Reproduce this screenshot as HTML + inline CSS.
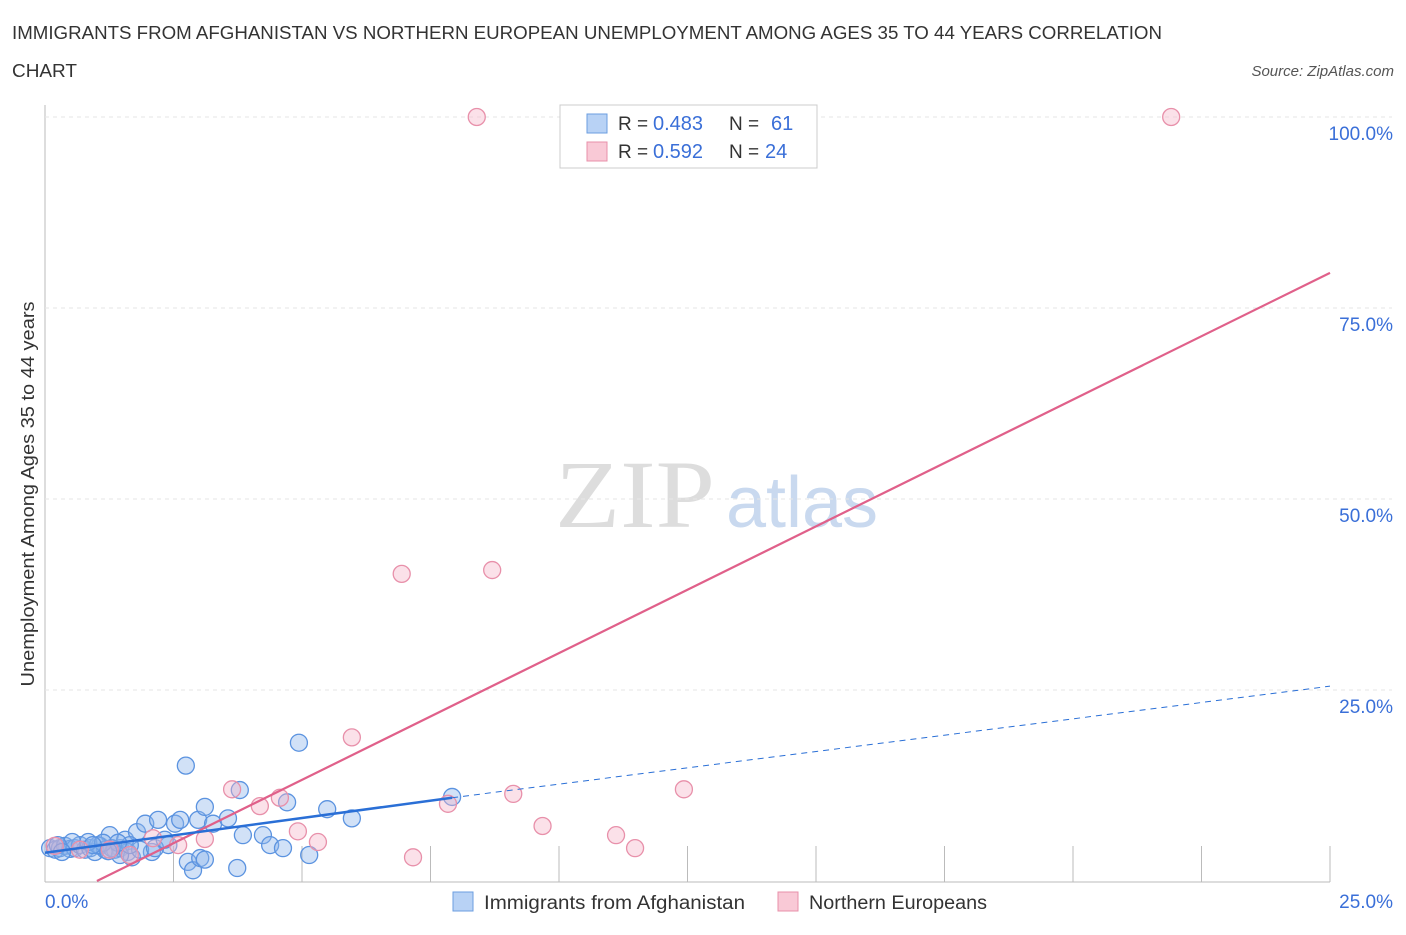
<!DOCTYPE html>
<html><head><meta charset="utf-8"><style>
body{margin:0;background:#fff;font-family:"Liberation Sans",sans-serif}
</style></head><body>
<svg id="chart" width="1406" height="930" xmlns="http://www.w3.org/2000/svg">
<text x="12" y="39" font-size="18" fill="#333" textLength="1150" lengthAdjust="spacingAndGlyphs">IMMIGRANTS FROM AFGHANISTAN VS NORTHERN EUROPEAN UNEMPLOYMENT AMONG AGES 35 TO 44 YEARS CORRELATION</text>
<text x="12" y="77" font-size="18" fill="#333" textLength="65" lengthAdjust="spacingAndGlyphs">CHART</text>
<text x="1394" y="76" font-size="15" fill="#555" font-style="italic" text-anchor="end">Source: ZipAtlas.com</text>
<text x="635" y="527" font-size="96" fill="#ddd" font-family="Liberation Serif,serif" text-anchor="middle" textLength="160" lengthAdjust="spacingAndGlyphs">ZIP</text>
<text x="802" y="527" font-size="72" fill="#c9d9ef" text-anchor="middle">atlas</text>
<text transform="translate(34,494) rotate(-90)" font-size="18" fill="#333" text-anchor="middle" textLength="385" lengthAdjust="spacingAndGlyphs">Unemployment Among Ages 35 to 44 years</text>
<g id="grid"></g><g id="pts"></g><g id="lines"></g>
<g>
<rect x="560" y="105" width="257" height="63" fill="#fff" stroke="#ccc"/>
<rect x="587" y="114" width="20" height="19" fill="#b8d2f5" stroke="#6b9ee0"/>
<rect x="587" y="142" width="20" height="19" fill="#f9c9d6" stroke="#e890aa"/>
<text x="618" y="130" font-size="19" fill="#333">R =</text><text x="653" y="130" font-size="20" fill="#3a6fd8">0.483</text>
<text x="729" y="130" font-size="19" fill="#333">N =</text><text x="771" y="130" font-size="20" fill="#3a6fd8">61</text>
<text x="618" y="158" font-size="19" fill="#333">R =</text><text x="653" y="158" font-size="20" fill="#3a6fd8">0.592</text>
<text x="729" y="158" font-size="19" fill="#333">N =</text><text x="765" y="158" font-size="20" fill="#3a6fd8">24</text>
</g>
<g>
<rect x="453" y="892" width="20" height="19" fill="#b8d2f5" stroke="#6b9ee0"/>
<text x="484" y="909" font-size="19" fill="#333" textLength="261" lengthAdjust="spacingAndGlyphs">Immigrants from Afghanistan</text>
<rect x="778" y="892" width="20" height="19" fill="#f9c9d6" stroke="#e890aa"/>
<text x="809" y="909" font-size="19" fill="#333" textLength="178" lengthAdjust="spacingAndGlyphs">Northern Europeans</text>
</g>
</svg>
<script>
const xTicks=[0,2.5,5,7.5,10,12.5,15,17.5,20,22.5,25];
const yTicks=[25,50,75,100];
const yTickLabels=["25.0%","50.0%","75.0%","100.0%"];
const blueX=[0.1,0.2,0.29,0.39,0.49,0.58,0.68,0.78,0.88,0.97,1.07,1.17,1.26,1.36,1.46,1.56,1.61,1.69,1.79,1.95,2.08,2.2,2.4,2.53,2.63,2.74,2.78,2.88,2.98,3.02,3.11,3.11,3.27,3.56,3.74,3.79,3.85,4.24,4.38,4.63,4.71,4.94,5.14,5.49,5.97,7.92,1.46,1.3,1.03,0.53,0.25,0.84,1.85,2.14,2.33,1.65,1.13,1.42,1.23,0.93,0.33];
const blueY=[4.3,4.1,4.3,4.6,4.2,4.3,4.7,4.1,4.3,3.8,4.6,4.1,6.0,4.1,4.3,5.4,3.8,3.1,6.4,7.5,3.8,8.0,4.7,7.5,8.0,15.1,2.5,1.4,8.0,3.0,9.7,2.8,7.5,8.2,1.7,11.9,6.0,6.0,4.7,4.3,10.3,18.1,3.4,9.4,8.2,11.0,3.4,4.3,4.7,5.1,4.7,5.1,4.1,4.3,5.4,4.7,5.0,5.0,3.9,4.7,3.8];
const pinkX=[0.19,0.68,2.1,2.59,3.11,3.64,4.18,4.57,4.92,5.31,5.97,6.94,7.16,7.84,8.4,8.7,9.11,9.68,11.11,11.48,12.43,21.91,1.26,1.65];
const pinkY=[4.6,4.1,5.6,4.7,5.5,12.0,9.8,10.9,6.5,5.1,18.8,40.2,3.1,10.1,100,40.7,11.4,7.2,6.0,4.3,12.0,100,4.1,3.4];
const pinkLine=[1.01,0,25,79.6];
const blueLine=[0,3.7,7.92,10.9,25,25.5];
const NS="http://www.w3.org/2000/svg";
const X=v=>45+v*51.4, Y=v=>881-v*7.64;
function mk(t,a,p){const e=document.createElementNS(NS,t);for(const k in a)e.setAttribute(k,a[k]);p.appendChild(e);return e;}
const g=document.getElementById('grid');
let ax=mk('line',{x1:45,y1:105,x2:45,y2:882,stroke:'#bbb'},g);


let bx=mk('line',{x1:45,y1:882,x2:1330,y2:882,stroke:'#bbb'},g);


yTicks.forEach((t,i)=>{
 const l=mk('line',{x1:45,x2:1392,y1:Y(t),y2:Y(t),stroke:'#e6e6e6','stroke-dasharray':'4,4'},g);
 
 
 const tx=mk('text',{x:1393,y:Y(t)+23,'font-size':19,fill:'#3a6fd8','text-anchor':'end'},g);tx.textContent=yTickLabels[i];
 
 
});
xTicks.forEach((t,i)=>{if(i==0)return;
 const l=mk('line',{x1:X(t),x2:X(t),y1:846,y2:882,stroke:'#bbb'},g);
 
 
});
[[0,"0.0%",'start',45],[25,"25.0%",'end',1393]].forEach(([v,s,a,x])=>{
 const tx=mk('text',{x:x,y:908,'font-size':19,fill:'#3a6fd8','text-anchor':a},g);tx.textContent=s;
 
 
});
const p=document.getElementById('pts');
blueX.forEach((v,i)=>{const c=mk('circle',{cx:X(v),cy:Y(blueY[i]),r:8.5,fill:'rgba(140,180,235,0.4)',stroke:'#5b93e0','stroke-width':1.3},p);
 
 });
pinkX.forEach((v,i)=>{const c=mk('circle',{cx:X(v),cy:Y(pinkY[i]),r:8.5,fill:'rgba(245,180,200,0.4)',stroke:'#e890aa','stroke-width':1.3},p);
 
 });
const L=document.getElementById('lines');
let pl=mk('line',{x1:X(pinkLine[0]),y1:Y(pinkLine[1]),x2:X(pinkLine[2]),y2:Y(pinkLine[3]),stroke:'#e0608a','stroke-width':2.2},L);


let b1=mk('line',{x1:X(blueLine[0]),y1:Y(blueLine[1]),x2:X(blueLine[2]),y2:Y(blueLine[3]),stroke:'#2a6fd6','stroke-width':2.5},L);


let b2=mk('line',{x1:X(blueLine[2]),y1:Y(blueLine[3]),x2:X(blueLine[4]),y2:Y(blueLine[5]),stroke:'#2a6fd6','stroke-width':1,'stroke-dasharray':'6,5'},L);


</script>
</body></html>
